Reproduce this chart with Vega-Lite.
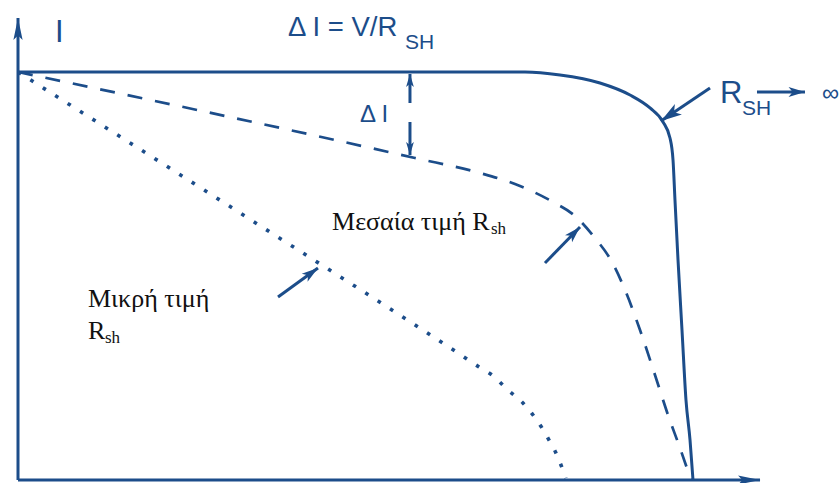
{
  "$schema": "https://vega.github.io/schema/vega-lite/v6.json",
  "width": 839,
  "height": 483,
  "autosize": {"type": "none"},
  "padding": 0,
  "background": "white",
  "config": {"view": {"stroke": null}},
  "datasets": {
    "curves": [
      {"curve": "ideal", "V": 0.0, "I": 1.0},
      {"curve": "ideal", "V": 0.7511, "I": 1.0},
      {"curve": "ideal", "V": 0.803, "I": 0.9926},
      {"curve": "ideal", "V": 0.8622, "I": 0.973},
      {"curve": "ideal", "V": 0.9067, "I": 0.9436},
      {"curve": "ideal", "V": 0.9363, "I": 0.9118},
      {"curve": "ideal", "V": 0.9556, "I": 0.8775},
      {"curve": "ideal", "V": 0.9659, "I": 0.8382},
      {"curve": "ideal", "V": 0.9704, "I": 0.7843},
      {"curve": "ideal", "V": 0.9733, "I": 0.6863},
      {"curve": "ideal", "V": 0.9778, "I": 0.5392},
      {"curve": "ideal", "V": 0.9837, "I": 0.3676},
      {"curve": "ideal", "V": 0.9896, "I": 0.1961},
      {"curve": "ideal", "V": 0.9956, "I": 0.098},
      {"curve": "ideal", "V": 1.0, "I": 0.0},
      {"curve": "medium", "V": 0.0, "I": 1.0},
      {"curve": "medium", "V": 0.5881, "I": 0.7892},
      {"curve": "medium", "V": 0.6844, "I": 0.7525},
      {"curve": "medium", "V": 0.7437, "I": 0.7206},
      {"curve": "medium", "V": 0.7926, "I": 0.6814},
      {"curve": "medium", "V": 0.8252, "I": 0.6471},
      {"curve": "medium", "V": 0.8548, "I": 0.5931},
      {"curve": "medium", "V": 0.88, "I": 0.5343},
      {"curve": "medium", "V": 0.8993, "I": 0.4657},
      {"curve": "medium", "V": 0.9215, "I": 0.3676},
      {"curve": "medium", "V": 0.9437, "I": 0.2574},
      {"curve": "medium", "V": 0.963, "I": 0.1593},
      {"curve": "medium", "V": 0.9807, "I": 0.0784},
      {"curve": "medium", "V": 0.997, "I": 0.0},
      {"curve": "small", "V": 0.0, "I": 1.0},
      {"curve": "small", "V": 0.3437, "I": 0.639},
      {"curve": "small", "V": 0.6652, "I": 0.2966},
      {"curve": "small", "V": 0.683, "I": 0.277},
      {"curve": "small", "V": 0.7022, "I": 0.2574},
      {"curve": "small", "V": 0.7259, "I": 0.2206},
      {"curve": "small", "V": 0.7481, "I": 0.1887},
      {"curve": "small", "V": 0.763, "I": 0.1593},
      {"curve": "small", "V": 0.7763, "I": 0.1275},
      {"curve": "small", "V": 0.7867, "I": 0.098},
      {"curve": "small", "V": 0.7963, "I": 0.0686},
      {"curve": "small", "V": 0.8044, "I": 0.0368},
      {"curve": "small", "V": 0.8119, "I": 0.0049}
    ],
    "arrows": [
      {"name": "I axis", "kind": "axis", "V": 0.0, "I": 0.0, "V2": 0.0, "I2": 1.1324},
      {"name": "V axis", "kind": "axis", "V": 0.0, "I": 0.0, "V2": 1.0993, "I2": 0.0},
      {"name": "R_SH pointer", "kind": "large", "V": 1.0252, "I": 0.9608, "V2": 0.9526, "I2": 0.8799},
      {"name": "R_SH to infinity", "kind": "medium", "V": 1.0948, "I": 0.951, "V2": 1.1659, "I2": 0.951},
      {"name": "delta I up", "kind": "small", "V": 0.5807, "I": 0.924, "V2": 0.5807, "I2": 0.9951},
      {"name": "delta I down", "kind": "small", "V": 0.5807, "I": 0.8775, "V2": 0.5807, "I2": 0.7966},
      {"name": "medium R_sh pointer", "kind": "medium", "V": 0.7807, "I": 0.5319, "V2": 0.8326, "I2": 0.6201},
      {"name": "small R_sh pointer", "kind": "medium", "V": 0.3852, "I": 0.4485, "V2": 0.4444, "I2": 0.5196}
    ],
    "labels": [
      {"text": "I", "role": "large", "V": 0.0548, "I": 1.0735},
      {"text": "Δ I = V/R", "role": "formula", "V": 0.4, "I": 1.0882},
      {"text": "SH", "role": "sub", "V": 0.5733, "I": 1.0564},
      {"text": "Δ I", "role": "main", "V": 0.5067, "I": 0.8775},
      {"text": "R", "role": "large", "V": 1.04, "I": 0.924},
      {"text": "SH", "role": "sub", "V": 1.0726, "I": 0.8946},
      {"text": "∞", "role": "main", "V": 1.1911, "I": 0.9289},
      {"text": "Μεσαία τιμή R", "role": "caption", "V": 0.4652, "I": 0.6127},
      {"text": "sh", "role": "captionSub", "V": 0.7007, "I": 0.6029},
      {"text": "Μικρή τιμή", "role": "caption", "V": 0.1037, "I": 0.424},
      {"text": "R", "role": "caption", "V": 0.1037, "I": 0.3456},
      {"text": "sh", "role": "captionSub", "V": 0.1289, "I": 0.3358}
    ]
  },
  "encoding": {
    "x": {"field": "V", "type": "quantitative", "axis": null,
          "scale": {"domain": [-0.026667, 1.216296], "nice": false, "zero": false}},
    "y": {"field": "I", "type": "quantitative", "axis": null,
          "scale": {"domain": [-0.007353, 1.176471], "nice": false, "zero": false}}
  },
  "layer": [
    {
      "data": {"name": "curves"},
      "transform": [{"filter": "datum.curve === 'ideal'"}],
      "mark": {"type": "line", "interpolate": "monotone", "stroke": "#1c4d8a", "strokeWidth": 3}
    },
    {
      "data": {"name": "curves"},
      "transform": [{"filter": "datum.curve === 'medium'"}],
      "mark": {"type": "line", "interpolate": "monotone", "stroke": "#1c4d8a", "strokeWidth": 2.7,
               "strokeDash": [15, 13], "strokeCap": "butt"}
    },
    {
      "data": {"name": "curves"},
      "transform": [{"filter": "datum.curve === 'small'"}],
      "mark": {"type": "line", "interpolate": "monotone", "stroke": "#1c4d8a", "strokeWidth": 3.6,
               "strokeDash": [3.6, 11.1], "strokeCap": "butt"}
    },
    {
      "data": {"name": "arrows"},
      "mark": {"type": "rule", "stroke": "#1c4d8a", "strokeWidth": 3},
      "encoding": {
        "x2": {"field": "V2"},
        "y2": {"field": "I2"}
      }
    },
    {
      "data": {"name": "arrows"},
      "transform": [
        {"filter": "datum.kind === 'axis'"},
        {"calculate": "atan2((datum.V2 - datum.V) * 675, (datum.I2 - datum.I) * 408) * 180 / PI", "as": "heading"}
      ],
      "mark": {"type": "point", "filled": true, "fill": "#1c4d8a", "opacity": 1, "strokeWidth": 0,
               "shape": "M0,0 L0.42,2 L0,1.6 L-0.42,2 Z", "size": 484},
      "encoding": {
        "x": {"field": "V2", "type": "quantitative"},
        "y": {"field": "I2", "type": "quantitative"},
        "angle": {"field": "heading", "type": "quantitative", "scale": null}
      }
    },
    {
      "data": {"name": "arrows"},
      "transform": [
        {"filter": "datum.kind === 'large'"},
        {"calculate": "atan2((datum.V2 - datum.V) * 675, (datum.I2 - datum.I) * 408) * 180 / PI", "as": "heading"}
      ],
      "mark": {"type": "point", "filled": true, "fill": "#1c4d8a", "opacity": 1, "strokeWidth": 0,
               "shape": "M0,0 L0.6,2 L0,1.5 L-0.6,2 Z", "size": 440},
      "encoding": {
        "x": {"field": "V2", "type": "quantitative"},
        "y": {"field": "I2", "type": "quantitative"},
        "angle": {"field": "heading", "type": "quantitative", "scale": null}
      }
    },
    {
      "data": {"name": "arrows"},
      "transform": [
        {"filter": "datum.kind === 'medium'"},
        {"calculate": "atan2((datum.V2 - datum.V) * 675, (datum.I2 - datum.I) * 408) * 180 / PI", "as": "heading"}
      ],
      "mark": {"type": "point", "filled": true, "fill": "#1c4d8a", "opacity": 1, "strokeWidth": 0,
               "shape": "M0,0 L0.6,2 L0,1.5 L-0.6,2 Z", "size": 270},
      "encoding": {
        "x": {"field": "V2", "type": "quantitative"},
        "y": {"field": "I2", "type": "quantitative"},
        "angle": {"field": "heading", "type": "quantitative", "scale": null}
      }
    },
    {
      "data": {"name": "arrows"},
      "transform": [
        {"filter": "datum.kind === 'small'"},
        {"calculate": "atan2((datum.V2 - datum.V) * 675, (datum.I2 - datum.I) * 408) * 180 / PI", "as": "heading"}
      ],
      "mark": {"type": "point", "filled": true, "fill": "#1c4d8a", "opacity": 1, "strokeWidth": 0,
               "shape": "M0,0 L0.6,2 L0,1.5 L-0.6,2 Z", "size": 169},
      "encoding": {
        "x": {"field": "V2", "type": "quantitative"},
        "y": {"field": "I2", "type": "quantitative"},
        "angle": {"field": "heading", "type": "quantitative", "scale": null}
      }
    },
    {
      "data": {"name": "labels"},
      "transform": [{"filter": "datum.role === 'large'"}],
      "mark": {"type": "text", "font": "Liberation Sans", "fontSize": 31, "fill": "#1c4d8a",
               "align": "left", "baseline": "alphabetic"},
      "encoding": {"text": {"field": "text"}}
    },
    {
      "data": {"name": "labels"},
      "transform": [{"filter": "datum.role === 'formula'"}],
      "mark": {"type": "text", "font": "Liberation Sans", "fontSize": 27.5, "fill": "#1c4d8a",
               "align": "left", "baseline": "alphabetic"},
      "encoding": {"text": {"field": "text"}}
    },
    {
      "data": {"name": "labels"},
      "transform": [{"filter": "datum.role === 'main'"}],
      "mark": {"type": "text", "font": "Liberation Sans", "fontSize": 24, "fill": "#1c4d8a",
               "align": "left", "baseline": "alphabetic"},
      "encoding": {"text": {"field": "text"}}
    },
    {
      "data": {"name": "labels"},
      "transform": [{"filter": "datum.role === 'sub'"}],
      "mark": {"type": "text", "font": "Liberation Sans", "fontSize": 21, "fill": "#1c4d8a",
               "align": "left", "baseline": "alphabetic"},
      "encoding": {"text": {"field": "text"}}
    },
    {
      "data": {"name": "labels"},
      "transform": [{"filter": "datum.role === 'caption'"}],
      "mark": {"type": "text", "font": "Liberation Serif", "fontSize": 26, "fill": "#111111",
               "align": "left", "baseline": "alphabetic"},
      "encoding": {"text": {"field": "text"}}
    },
    {
      "data": {"name": "labels"},
      "transform": [{"filter": "datum.role === 'captionSub'"}],
      "mark": {"type": "text", "font": "Liberation Serif", "fontSize": 17, "fill": "#111111",
               "align": "left", "baseline": "alphabetic"},
      "encoding": {"text": {"field": "text"}}
    }
  ]
}
